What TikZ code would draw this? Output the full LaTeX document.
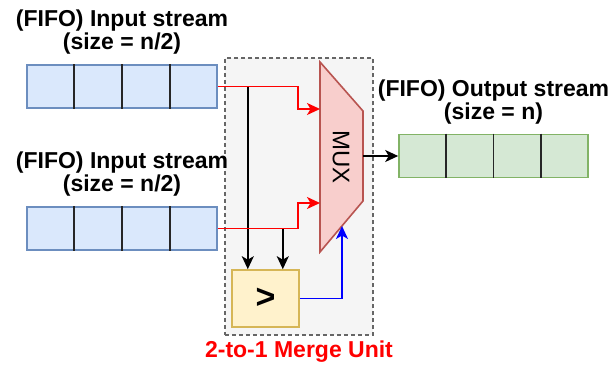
\documentclass[tikz,border=0pt]{standalone}
\usepackage{fontspec}
\setmainfont{Liberation Sans}
\usetikzlibrary{arrows.meta,positioning,calc}
\definecolor{ink}{HTML}{000000}
\definecolor{infill}{HTML}{DAE8FC}
\definecolor{inborder}{HTML}{6C8EBF}
\definecolor{outfill}{HTML}{D5E8D4}
\definecolor{outborder}{HTML}{82B366}
\definecolor{muxfill}{HTML}{F8CECC}
\definecolor{muxborder}{HTML}{B85450}
\definecolor{cmpfill}{HTML}{FFF2CC}
\definecolor{cmpborder}{HTML}{D6B656}
\definecolor{unitfill}{HTML}{F5F5F5}
\definecolor{unitborder}{HTML}{666666}
\definecolor{datared}{HTML}{FF0000}
\definecolor{selblue}{HTML}{0000FF}
\tikzset{
  >={Stealth[length=13pt,width=12pt,inset=3.5pt]},
  every node/.style={font=\fontsize{23}{23}\selectfont\bfseries,text=ink},
  fifo/.style={draw=inborder,fill=infill,line width=1.6pt,minimum width=190pt,minimum height=43pt,inner sep=0pt},
  outfifo/.style={fifo,draw=outborder,fill=outfill,minimum width=189pt},
  cell/.style={draw=ink!85,line width=1.6pt},
  unit/.style={draw=unitborder,fill=unitfill,dash pattern=on 4pt off 3pt,line width=1.4pt,inner sep=0pt},
  cmpbox/.style={draw=cmpborder,fill=cmpfill,line width=1.6pt,minimum width=67pt,minimum height=57pt,inner sep=0pt},
  muxshape/.style={draw=muxborder,fill=muxfill,line width=1.6pt},
  data/.style={->,line width=1.8pt,draw=datared},
  cmpline/.style={->,line width=1.8pt,draw=ink},
  sel/.style={->,line width=1.8pt,draw=selblue},
  caption/.style={align=center,inner sep=0pt},
}

\begin{document}
\begin{tikzpicture}[x=1pt,y=-1pt]
\useasboundingbox (0,0) rectangle (614,365);

% merge unit frame
\node[unit,minimum width=148pt,minimum height=277pt] (unit) at (299,196.5) {};
\node[caption,text=datared,below=5pt of unit] (unitlbl) {2-to-1 Merge Unit};

% input streams
\node[fifo] (in1) at (122,86.5) {};
\node[fifo] (in2) at (122,228.5) {};
\node[outfifo] (out) at (493.5,156) {};
\foreach \s in {in1,in2,out}
  \foreach \i in {1,2,3}
    \draw[cell] ($(\s.north west)!\i/4!(\s.north east)$) -- ($(\s.south west)!\i/4!(\s.south east)$);

\node[caption,above=10pt of in1] (in1lbl) {(FIFO) Input stream\\(size = n/2)};
\node[caption,above=10pt of in2] (in2lbl) {(FIFO) Input stream\\(size = n/2)};
\node[caption,above=9pt of out] (outlbl) {(FIFO) Output stream\\(size = n)};

% mux
\draw[muxshape] (320,62) -- (363,111) -- (363,201) -- (320,252) -- cycle;
\node[rotate=-90,font=\fontsize{24}{24}\selectfont] (mux) at (341,157) {MUX};
\coordinate (mux-in1) at (320,109);
\coordinate (mux-in2) at (320,203);
\coordinate (mux-sel) at (342,226);
\coordinate (mux-out) at (363,156);

% comparator
\node[cmpbox,font=\fontsize{34}{34}\selectfont\bfseries] (cmp) at (265.5,298.5) {>};

% wiring
\coordinate (tap1) at ($(in1.east)+(30,0)$);
\coordinate (tap2) at ($(in2.east)+(65,0)$);
\draw[cmpline] (tap1) -- (tap1 |- cmp.north);
\draw[cmpline] (tap2) -- (tap2 |- cmp.north);
\draw[data] (in1.east) -- ++(80,0) |- (mux-in1);
\draw[data] (in2.east) -- ++(80,0) |- (mux-in2);
\draw[sel] (cmp.east) -| (mux-sel);
\draw[cmpline] (mux-out) -- (out.west);

\end{tikzpicture}
\end{document}
